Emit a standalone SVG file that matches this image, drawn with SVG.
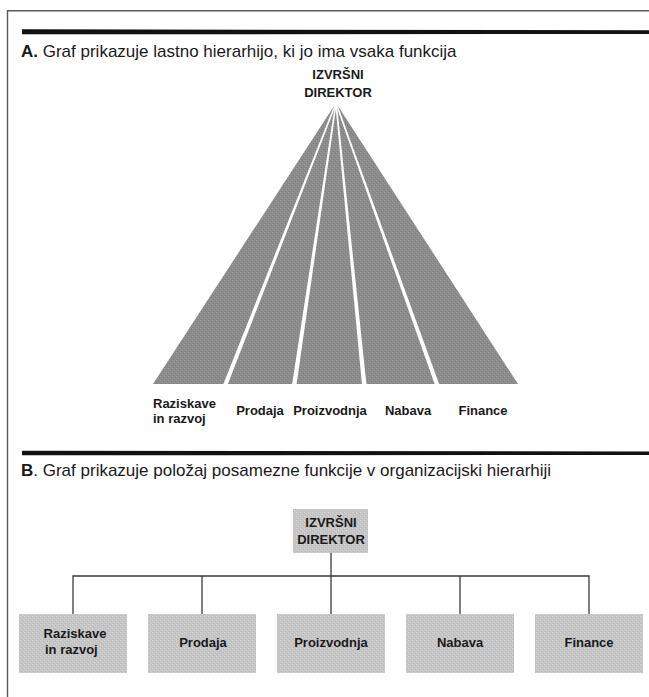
<svg xmlns="http://www.w3.org/2000/svg" width="649" height="697" viewBox="0 0 649 697">
  <defs>
    <!-- fine screen texture for the printed grey fills -->
    <pattern id="screenDark" width="4" height="4" patternUnits="userSpaceOnUse">
      <rect width="4" height="4" fill="#8c8c8c"/>
      <rect x="0" y="0" width="1" height="1" fill="#9a9a9a"/>
      <rect x="2" y="2" width="1" height="1" fill="#9a9a9a"/>
      <rect x="1" y="3" width="1" height="1" fill="#7e7e7e"/>
      <rect x="3" y="1" width="1" height="1" fill="#7e7e7e"/>
    </pattern>
    <pattern id="screenLight" width="4" height="4" patternUnits="userSpaceOnUse">
      <rect width="4" height="4" fill="#c6c6c6"/>
      <rect x="0" y="0" width="1" height="1" fill="#d4d4d4"/>
      <rect x="2" y="2" width="1" height="1" fill="#d4d4d4"/>
      <rect x="1" y="3" width="1" height="1" fill="#b8b8b8"/>
      <rect x="3" y="1" width="1" height="1" fill="#b8b8b8"/>
    </pattern>
  </defs>
  <style>
    .frame { fill: none; stroke: #5a5a5a; stroke-width: 1.4; }
    .bar { fill: #111; }
    .title { font-family: "Liberation Sans", Arial, sans-serif; font-size: 17px; fill: #1a1a1a; }
    .title .lead { font-weight: bold; }
    .lbl { font-family: "Liberation Sans", Arial, sans-serif; font-size: 13px; font-weight: bold; fill: #1a1a1a; text-anchor: middle; }
    .lbl-l { font-family: "Liberation Sans", Arial, sans-serif; font-size: 13px; font-weight: bold; fill: #1a1a1a; }
    .wedge { fill: url(#screenDark); }
    .gap { fill: #ffffff; }
    .box { fill: url(#screenLight); }
    .link { fill: none; stroke: #3a3a3a; stroke-width: 1.3; }
  </style>

  <rect width="649" height="697" fill="#ffffff"/>

  <!-- page frame, open to the right and bottom -->
  <path class="frame" d="M7.5,697 V10.7 H649"/>

  <!-- section rules -->
  <polygon class="bar" points="22,29.3 649,30.2 649,34 22,34.2"/>
  <polygon class="bar" points="22,450.8 649,451.5 649,455 22,455.3"/>

  <!-- ===== Part A ===== -->
  <text class="title" x="21" y="57"><tspan class="lead">A.</tspan> Graf prikazuje lastno hierarhijo, ki jo ima vsaka funkcija</text>

  <g id="a-director">
    <text class="lbl" x="338" y="79">IZVRŠNI</text>
    <text class="lbl" x="338" y="97">DIREKTOR</text>
  </g>

  <g id="a-hierarchy">
    <polygon class="wedge" points="336,103 518,384 153,384"/>
    <!-- white separators between the five functions -->
    <polygon class="gap" points="335.2,103 336.8,103 227.5,385 223,385"/>
    <polygon class="gap" points="335.2,103 336.8,103 296.5,385 292,385"/>
    <polygon class="gap" points="335.2,103 336.8,103 366.5,385 362,385"/>
    <polygon class="gap" points="335.2,103 336.8,103 439.5,385 435,385"/>
  </g>

  <g id="a-labels">
    <text class="lbl-l" x="153" y="408">Raziskave</text>
    <text class="lbl-l" x="153" y="423">in razvoj</text>
    <text class="lbl" x="260" y="415">Prodaja</text>
    <text class="lbl" x="330" y="415">Proizvodnja</text>
    <text class="lbl" x="408" y="415">Nabava</text>
    <text class="lbl" x="483" y="415">Finance</text>
  </g>

  <!-- ===== Part B ===== -->
  <text class="title" x="21" y="476"><tspan class="lead">B</tspan>. Graf prikazuje položaj posamezne funkcije v organizacijski hierarhiji</text>

  <g id="connectors">
    <path class="link" d="M331,553 V576"/>
    <path class="link" d="M73,614 V576 H589 V614"/>
    <path class="link" d="M202,576 V614"/>
    <path class="link" d="M331,576 V614"/>
    <path class="link" d="M460,576 V614"/>
  </g>

  <g id="b-director">
    <rect class="box" x="293" y="509" width="75" height="44"/>
    <text class="lbl" x="331" y="527">IZVRŠNI</text>
    <text class="lbl" x="331" y="544">DIREKTOR</text>
  </g>

  <g id="b-rnd">
    <rect class="box" x="19" y="614" width="108" height="59"/>
    <text class="lbl" x="75" y="638">Raziskave</text>
    <text class="lbl-l" x="45" y="654">in razvoj</text>
  </g>

  <g id="b-sales">
    <rect class="box" x="148" y="614" width="108" height="59"/>
    <text class="lbl" x="203" y="647">Prodaja</text>
  </g>

  <g id="b-production">
    <rect class="box" x="277" y="614" width="108" height="59"/>
    <text class="lbl" x="331" y="647">Proizvodnja</text>
  </g>

  <g id="b-purchasing">
    <rect class="box" x="406" y="614" width="108" height="59"/>
    <text class="lbl" x="460" y="647">Nabava</text>
  </g>

  <g id="b-finance">
    <rect class="box" x="535" y="614" width="108" height="59"/>
    <text class="lbl" x="589" y="647">Finance</text>
  </g>
</svg>
